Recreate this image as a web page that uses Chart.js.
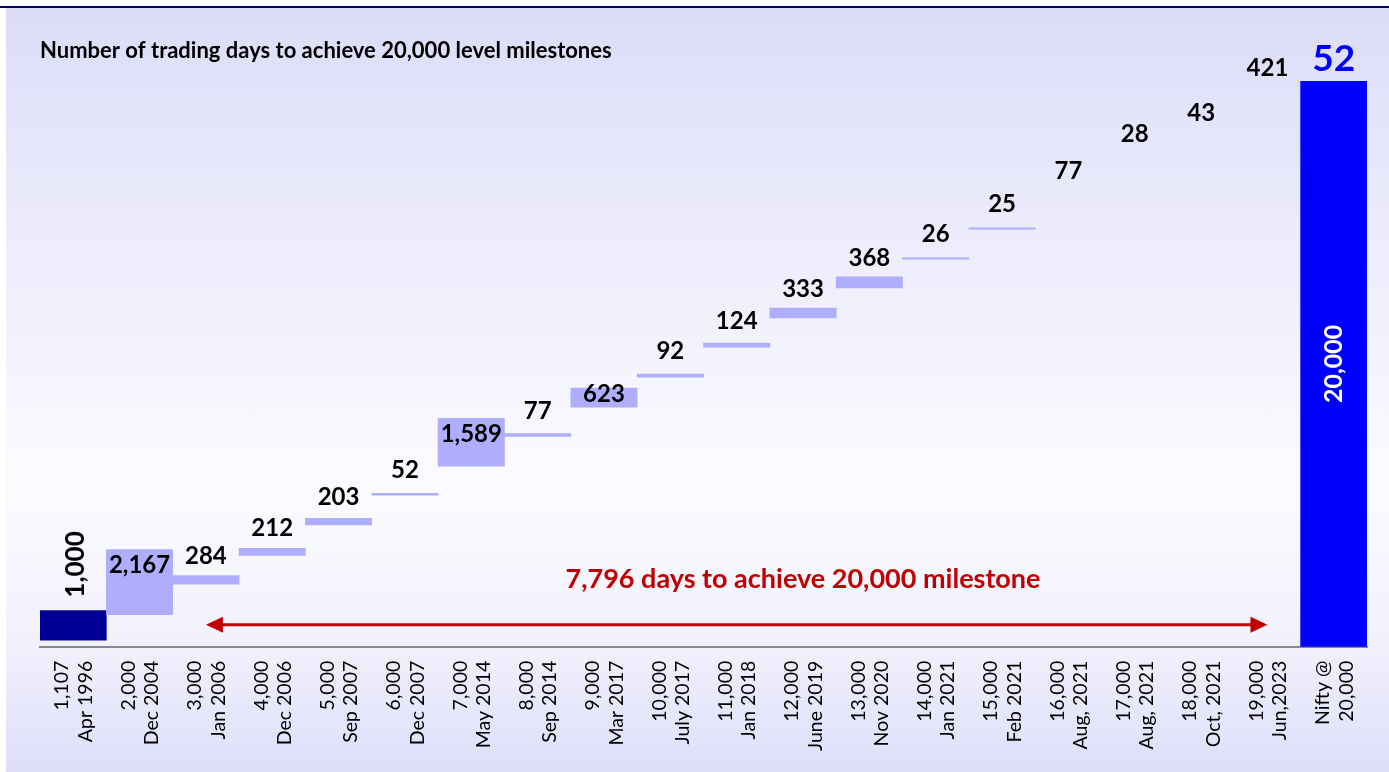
<!DOCTYPE html>
<html>
<head>
<meta charset="utf-8">
<script src="https://cdn.jsdelivr.net/npm/chart.js@4.4.0/dist/chart.umd.min.js"></script>
<style>
  html, body { margin: 0; padding: 0; background: #fff; }
  body { width: 1389px; height: 772px; position: relative; overflow: hidden; }
  #panel {
    position: absolute; left: 6px; top: 8px; right: 0; bottom: 0;
    background: linear-gradient(to bottom, #dcdcf9 0%, #ececfc 30%, #fbfbff 62%, #f2f2fd 82%, #dedefa 100%);
  }
  #topline { position: absolute; left: 0; top: 6px; width: 100%; height: 2px; background: #000066; }
  #chart { position: absolute; left: 0; top: 0; }
</style>
</head>
<body>
<div id="panel"></div>
<div id="topline"></div>
<canvas id="chart" width="1389" height="772"></canvas>
<script>
// Nifty milestones, date reached and trading days taken for each step
const milestones = ['1,107', '2,000', '3,000', '4,000', '5,000', '6,000', '7,000', '8,000', '9,000', '10,000',
  '11,000', '12,000', '13,000', '14,000', '15,000', '16,000', '17,000', '18,000', '19,000', 'Nifty @'];
const dates = ['Apr 1996', 'Dec 2004', 'Jan 2006', 'Dec 2006', 'Sep 2007', 'Dec 2007', 'May 2014', 'Sep 2014', 'Mar 2017', 'July 2017',
  'Jan 2018', 'June 2019', 'Nov 2020', 'Jan 2021', 'Feb 2021', 'Aug, 2021', 'Aug, 2021', 'Oct, 2021', 'Jun,2023', '20,000'];
const dayCounts = ['1,000', '2,167', '284', '212', '203', '52', '1,589', '77', '623', '92',
  '124', '333', '368', '26', '25', '77', '28', '43', '421', '52'];

// floating bar ends (index level scale)
const barLows = [230, 1133, 2213, 3232, 4308, 5356, 6383, 7434, 8471, 9533,
  10595, 11622, 12684, 13700, 14762, 15965, 17275, 18019, 19612, 0];
const barHighs = [1275, 3434, 2513, 3480, 4542, 5427, 8071, 7540, 9144, 9639,
  10737, 11976, 13073, 13746, 14808, 15965, 17275, 18019, 19612, 20000];

const totalDays = '7,796';
const niftyLevel = '20,000';

const FONT = 'Lato';

// Draw the day counts, the arrow and the total text
const labelPlugin = {
  id: 'dayLabels',
  afterDatasetsDraw(chart) {
    const ctx = chart.ctx;
    const meta = chart.getDatasetMeta(0);
    const last = meta.data.length - 1;
    ctx.save();
    meta.data.forEach((bar, i) => {
      const top = Math.min(bar.y, bar.base);
      const bottom = Math.max(bar.y, bar.base);
      const h = bottom - top;
      const mid = (top + bottom) / 2;
      ctx.textAlign = 'center';
      ctx.textBaseline = 'middle';
      ctx.fillStyle = '#000';
      ctx.font = 'bold 24px ' + FONT;
      if (i === 0) {
        ctx.save();
        ctx.translate(bar.x + 2, top - 13);
        ctx.rotate(-Math.PI / 2);
        ctx.textAlign = 'left';
        ctx.font = 'bold 26px ' + FONT;
        ctx.fillText(dayCounts[i], 0, 0);
        ctx.restore();
      } else if (i === last) {
        ctx.fillStyle = '#0000ff';
        ctx.font = 'bold 37px ' + FONT;
        ctx.fillText(dayCounts[i], bar.x, top - 22);
        ctx.save();
        ctx.translate(bar.x, mid);
        ctx.rotate(-Math.PI / 2);
        ctx.fillStyle = '#fff';
        ctx.font = 'bold 25px ' + FONT;
        ctx.fillText(niftyLevel, 0, 0);
        ctx.restore();
      } else if (h > 15) {
        ctx.fillText(dayCounts[i], bar.x, Math.min(top + 16, mid - 3));
      } else {
        ctx.fillText(dayCounts[i], bar.x, mid - 24);
      }
    });

    // double headed arrow
    const xs = chart.scales.x;
    const x1 = xs.getPixelForValue(2);
    const x2 = xs.getPixelForValue(18);
    const ay = chart.chartArea.bottom - 22;
    ctx.strokeStyle = '#c00000';
    ctx.fillStyle = '#c00000';
    ctx.lineWidth = 3;
    ctx.beginPath();
    ctx.moveTo(x1 + 14, ay);
    ctx.lineTo(x2 - 14, ay);
    ctx.stroke();
    ctx.beginPath();
    ctx.moveTo(x1, ay);
    ctx.lineTo(x1 + 17, ay - 8);
    ctx.lineTo(x1 + 17, ay + 8);
    ctx.closePath();
    ctx.fill();
    ctx.beginPath();
    ctx.moveTo(x2, ay);
    ctx.lineTo(x2 - 17, ay - 8);
    ctx.lineTo(x2 - 17, ay + 8);
    ctx.closePath();
    ctx.fill();

    ctx.font = 'bold 27px ' + FONT;
    ctx.textAlign = 'center';
    ctx.textBaseline = 'middle';
    ctx.fillText(totalDays + ' days to achieve ' + niftyLevel + ' milestone',
      xs.getPixelForValue(11), chart.chartArea.bottom - 67);
    ctx.restore();
  }
};

// zero height steps are left blank in the original
const barColors = milestones.map((m, i) => {
  if (i === 0) return '#000099';
  if (i === milestones.length - 1) return '#0000ff';
  return barLows[i] === barHighs[i] ? 'rgba(0,0,0,0)' : '#aeaefc';
});

new Chart(document.getElementById('chart').getContext('2d'), {
  type: 'bar',
  data: {
    labels: milestones.map((m, i) => [m, dates[i]]),
    datasets: [{
      data: barLows.map((lo, i) => [lo, barHighs[i]]),
      backgroundColor: barColors,
      borderWidth: 0,
      barPercentage: 1,
      categoryPercentage: 1
    }]
  },
  options: {
    responsive: false,
    animation: false,
    layout: { padding: { left: 40, right: 22, top: 38, bottom: 7 } },
    plugins: {
      legend: { display: false },
      tooltip: { enabled: false },
      title: {
        display: true,
        text: 'Number of trading days to achieve 20,000 level milestones',
        align: 'start',
        color: '#000',
        font: { family: FONT, size: 22, weight: 'bold' },
        padding: { top: 0, bottom: 16.6 }
      }
    },
    scales: {
      x: {
        // the rotated end labels should not push the plot inwards
        afterFit(scale) {
          scale.paddingLeft = 0;
          scale.paddingRight = 0;
        },
        grid: { display: false, drawTicks: false },
        border: { display: true, color: '#888', width: 2 },
        ticks: {
          minRotation: 90,
          maxRotation: 90,
          autoSkip: false,
          color: '#000',
          padding: 14,
          labelOffset: -11,
          font: { family: FONT, size: 19.5 }
        }
      },
      y: { display: false, min: 0, max: 20000 }
    }
  },
  plugins: [labelPlugin]
});
</script>
</body>
</html>
